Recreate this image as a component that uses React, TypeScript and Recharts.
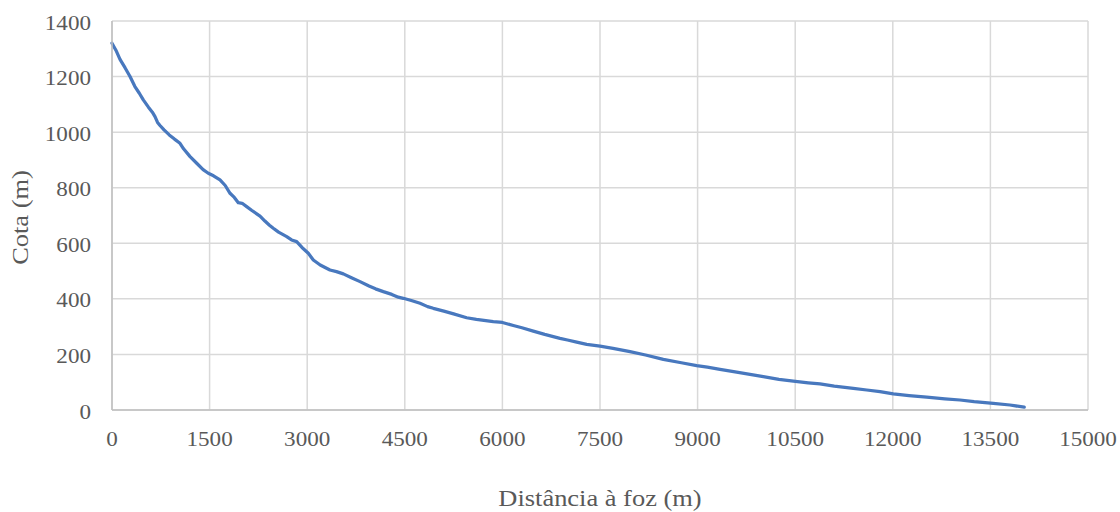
import React from 'react';
import { LineChart, Line, XAxis, YAxis, CartesianGrid, Label } from 'recharts';

const distances = [
  0, 60, 123, 200, 277, 350, 420, 481, 560, 620, 661, 700, 738, 800, 880, 960, 1045, 1100, 1200, 1302,
  1400, 1480, 1560, 1660, 1740, 1814, 1880, 1941, 2000, 2070, 2150, 2275, 2350, 2420, 2479, 2560, 2685,
  2760, 2838, 2920, 3017, 3094, 3200, 3350, 3450, 3555, 3680, 3812, 3950, 4050, 4170, 4300, 4400, 4477,
  4600, 4734, 4850, 4938, 5100, 5250, 5451, 5600, 5860, 6000, 6168, 6300, 6475, 6650, 6885, 7000, 7142,
  7296, 7500, 7700, 7961, 8200, 8473, 8750, 8986, 9150, 9344, 9600, 10010, 10250, 10471, 10700, 10881,
  11100, 11393, 11600, 11803, 12008, 12250, 12521, 12800, 13033, 13250, 13545, 13800, 14020,
];

const elevations = [
  1320, 1295, 1262, 1232, 1200, 1165, 1140, 1116, 1090, 1072, 1056, 1035, 1024, 1008, 990, 975, 960, 940, 912, 888,
  865, 852, 843, 828, 808, 780, 765, 746, 744, 732, 718, 698, 680, 665, 654, 640, 624,
  612, 606, 585, 564, 540, 522, 504, 498, 490, 476, 462, 446, 436, 426, 416, 406, 402,
  394, 384, 372, 366, 356, 346, 332, 326, 318, 315, 304, 296, 284, 272, 258, 252, 244,
  236, 230, 222, 210, 198, 182, 170, 160, 154, 146, 136, 120, 110, 104, 98, 94,
  86, 78, 72, 66, 58, 52, 46, 40, 36, 30, 24, 18, 10,
];

const xTicks = [0, 1500, 3000, 4500, 6000, 7500, 9000, 10500, 12000, 13500, 15000];
const yTicks = [0, 200, 400, 600, 800, 1000, 1200, 1400];

const xTitle = 'Distância à foz (m)';
const yTitle = 'Cota (m)';

const data = distances.map((d, i) => ({ d, z: elevations[i] }));

const FONT = '"Liberation Serif", "Times New Roman", serif';
const TEXT = '#595959';

const XTick = (props: any) => {
  const { x, y, payload } = props;
  return (
    <g transform={`translate(${x},${y + 36})`}>
      <text x={0} y={0} textAnchor="middle" fill={TEXT} fontFamily={FONT} fontSize={22} transform="scale(1.05,1)">
        {payload.value}
      </text>
    </g>
  );
};

const YTick = (props: any) => {
  const { x, y, payload } = props;
  return (
    <g transform={`translate(${x - 21},${y + 8.5})`}>
      <text x={0} y={0} textAnchor="end" fill={TEXT} fontFamily={FONT} fontSize={22} transform="scale(1.05,1)">
        {payload.value}
      </text>
    </g>
  );
};

const XTitle = (props: any) => {
  const vb = props.viewBox || {};
  const cx = vb.x + vb.width / 2;
  const by = vb.y + vb.height - 6;
  return (
    <g transform={`translate(${cx},${by})`}>
      <text x={0} y={0} textAnchor="middle" fill={TEXT} fontFamily={FONT} fontSize={23} transform="scale(1.15,1)">
        {xTitle}
      </text>
    </g>
  );
};

const YTitle = (props: any) => {
  const vb = props.viewBox || {};
  const bx = vb.x + 28;
  const cy = vb.y + vb.height / 2 + 2;
  return (
    <g transform={`translate(${bx},${cy}) rotate(-90)`}>
      <text x={0} y={0} textAnchor="middle" fill={TEXT} fontFamily={FONT} fontSize={23} transform="scale(1.15,1)">
        {yTitle}
      </text>
    </g>
  );
};

export default function App() {
  return (
    <div style={{ position: 'absolute', left: 0, top: 0, width: 1120, height: 512, background: '#ffffff' }}>
      <LineChart width={1120} height={512} data={data} margin={{ top: 21, right: 32, bottom: 0, left: 0 }}>
        <CartesianGrid stroke="#d9d9d9" strokeWidth={1.5} />
        <XAxis
          dataKey="d"
          type="number"
          domain={[0, 15000]}
          ticks={xTicks}
          interval={0}
          height={102}
          tickSize={0}
          tickMargin={0}
          tickLine={false}
          axisLine={{ stroke: '#bfbfbf', strokeWidth: 1.5 }}
          tick={<XTick />}
        >
          <Label content={<XTitle />} />
        </XAxis>
        <YAxis
          type="number"
          domain={[0, 1400]}
          ticks={yTicks}
          interval={0}
          width={112}
          tickSize={0}
          tickMargin={0}
          tickLine={false}
          axisLine={{ stroke: '#bfbfbf', strokeWidth: 1.5 }}
          tick={<YTick />}
        >
          <Label content={<YTitle />} />
        </YAxis>
        <Line
          type="linear"
          dataKey="z"
          stroke="#4878BE"
          strokeWidth={3.25}
          dot={false}
          isAnimationActive={false}
          strokeLinejoin="round"
          strokeLinecap="round"
        />
      </LineChart>
    </div>
  );
}
